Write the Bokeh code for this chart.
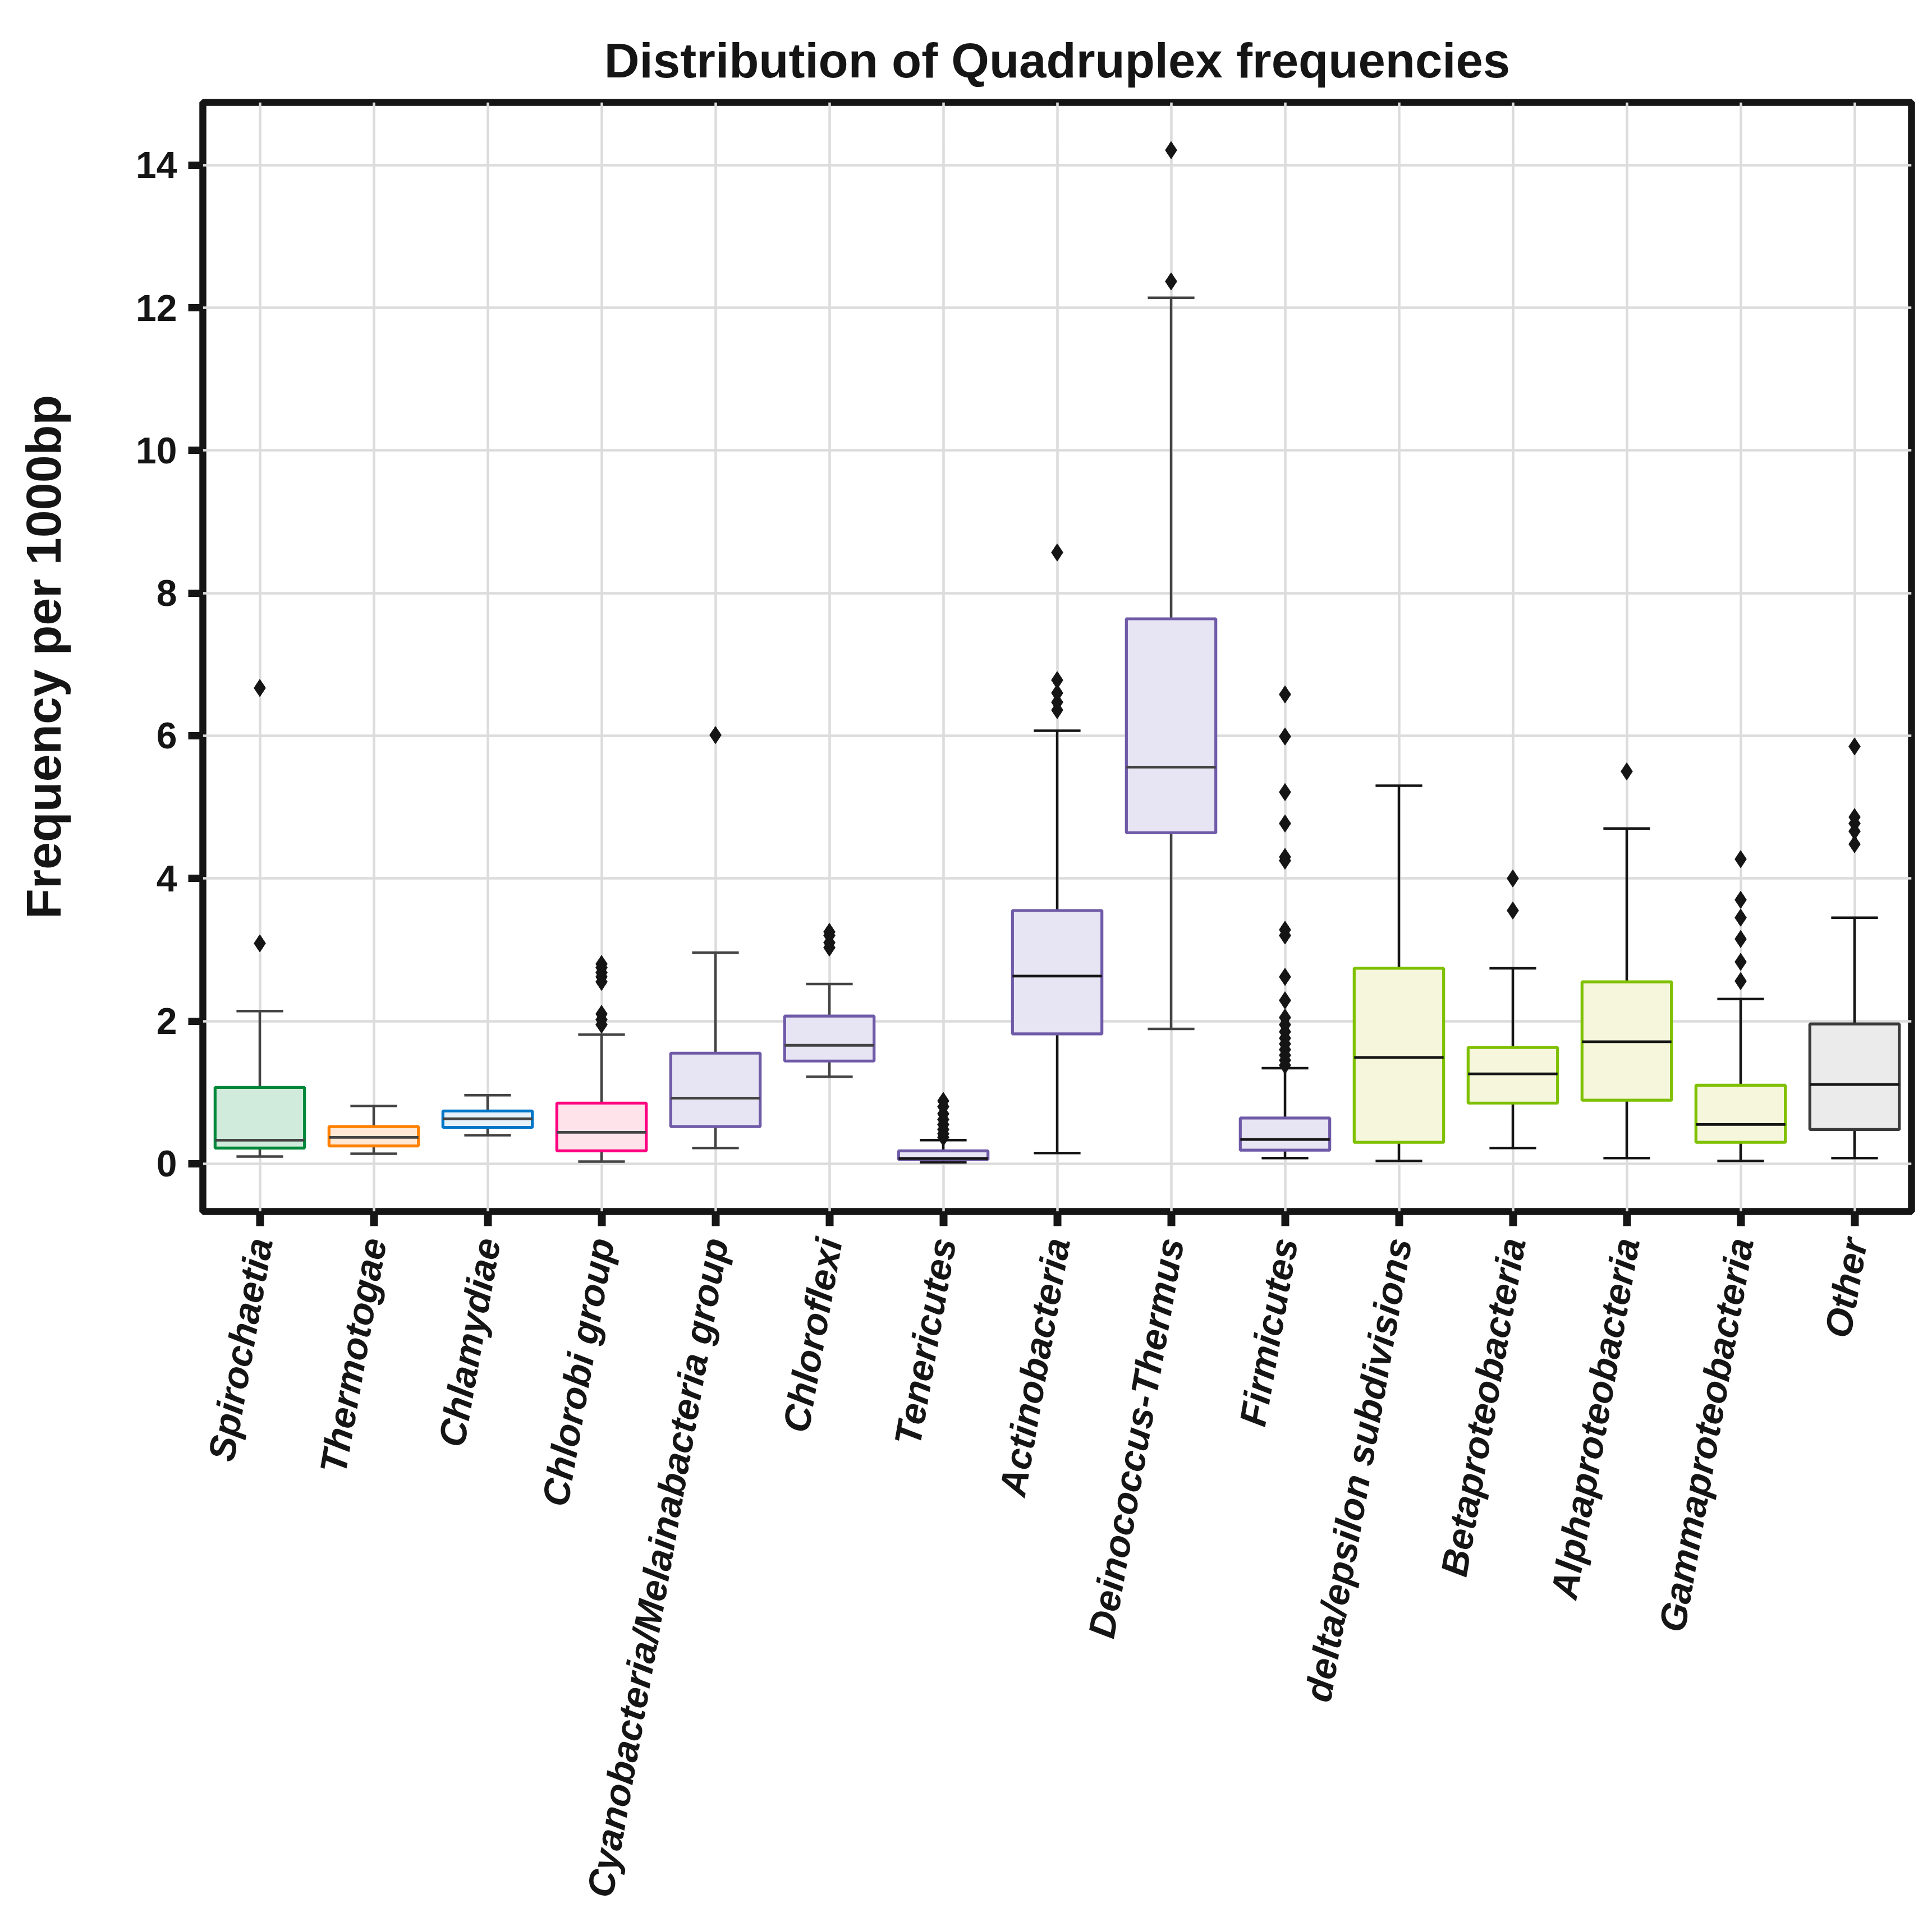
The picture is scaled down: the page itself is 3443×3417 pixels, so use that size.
import math
from bokeh.plotting import figure
from bokeh.models import ColumnDataSource, FactorRange, Range1d, FixedTicker
from bokeh.transform import dodge
from bokeh.embed import file_html
from bokeh.resources import INLINE

title_text = "Distribution of Quadruplex frequencies"
y_label = "Frequency per 1000bp"
categories = ["Spirochaetia", "Thermotogae", "Chlamydiae", "Chlorobi group",
              "Cyanobacteria/Melainabacteria group", "Chloroflexi", "Tenericutes",
              "Actinobacteria", "Deinococcus-Thermus", "Firmicutes",
              "delta/epsilon subdivisions", "Betaproteobacteria", "Alphaproteobacteria",
              "Gammaproteobacteria", "Other"]
q1 = [0.22, 0.25, 0.51, 0.18, 0.52, 1.44, 0.06, 1.82, 4.64, 0.19, 0.30, 0.85, 0.89, 0.30, 0.48]
median = [0.33, 0.37, 0.63, 0.44, 0.92, 1.66, 0.075, 2.63, 5.56, 0.34, 1.49, 1.26, 1.71, 0.55, 1.11]
q3 = [1.07, 0.52, 0.74, 0.85, 1.55, 2.07, 0.18, 3.55, 7.64, 0.64, 2.74, 1.63, 2.55, 1.10, 1.96]
whisker_low = [0.10, 0.14, 0.40, 0.03, 0.22, 1.22, 0.02, 0.15, 1.89, 0.08, 0.04, 0.22, 0.08, 0.04, 0.08]
whisker_high = [2.14, 0.81, 0.96, 1.81, 2.96, 2.52, 0.33, 6.07, 12.14, 1.34, 5.30, 2.74, 4.70, 2.31, 3.45]
outliers = [
    [3.09, 6.67],
    [],
    [],
    [1.95, 2.02, 2.10, 2.55, 2.62, 2.68, 2.75, 2.80],
    [6.01],
    [3.03, 3.10, 3.20, 3.25],
    [0.37, 0.42, 0.48, 0.55, 0.62, 0.70, 0.80, 0.88],
    [6.36, 6.47, 6.60, 6.78, 8.57],
    [12.37, 14.21],
    [1.38, 1.45, 1.52, 1.60, 1.68, 1.76, 1.85, 1.95, 2.05, 2.29, 2.62, 3.20, 3.28,
     4.25, 4.30, 4.77, 5.21, 5.99, 6.58],
    [],
    [3.55, 4.00],
    [5.50],
    [2.56, 2.83, 3.15, 3.45, 3.70, 4.27],
    [4.48, 4.66, 4.77, 4.86, 5.85],
]
y_ticks = [0, 2, 4, 6, 8, 10, 12, 14]

# styles
PURPLE, PFILL = "#6F5AA8", "#E7E5F3"
LIME, LFILL = "#7FC000", "#F5F6DC"
edge_colors = ["#00883A", "#FF8000", "#0077C8", "#FF0080"] + [PURPLE] * 6 + [LIME] * 4 + ["#3A3A3A"]
fill_colors = ["#D0EBDB", "#FFE8D5", "#E6F1FA", "#FEE3EA"] + [PFILL] * 6 + [LFILL] * 4 + ["#EBEBEB"]
GRAY, BLACK = "#444444", "#151515"
line_colors = [GRAY] * 6 + [BLACK, BLACK, GRAY] + [BLACK] * 6

FONT = "Liberation Sans"

src = ColumnDataSource(dict(cat=categories, q1=q1, med=median, q3=q3,
                            lo=whisker_low, hi=whisker_high,
                            edge=edge_colors, fill=fill_colors, lc=line_colors))
ox, oy = [], []
for c, vals in zip(categories, outliers):
    for v in vals:
        ox.append(c)
        oy.append(v)
osrc = ColumnDataSource(dict(cat=ox, y=oy))

p = figure(x_range=FactorRange(*categories), y_range=Range1d(-0.67, 14.88),
           frame_width=3045, frame_height=1977,
           min_border_left=361, min_border_top=182, min_border_right=22, min_border_bottom=1225,
           output_backend="svg", toolbar_location=None,
           background_fill_color="white", border_fill_color="white")

p.title.text = title_text
p.title.align = "center"
p.title.text_font = FONT
p.title.text_font_size = "87px"
p.title.text_font_style = "bold"
p.title.text_color = BLACK
p.title.standoff = 53

p.outline_line_color = BLACK
p.outline_line_width = 12.5
p.outline_line_alpha = 1.0

for g in (p.xgrid, p.ygrid):
    g.grid_line_color = "#DCDCDC"
    g.grid_line_width = 4.5
p.ygrid.ticker = FixedTicker(ticks=y_ticks)
p.yaxis.ticker = FixedTicker(ticks=y_ticks)

for ax in (p.xaxis, p.yaxis):
    ax.axis_line_color = None
    ax.major_tick_in = 0
    ax.major_tick_out = 26
    ax.major_tick_line_color = BLACK
    ax.minor_tick_line_color = None
    ax.major_label_text_font = FONT
    ax.major_label_text_color = BLACK

p.xaxis.major_tick_line_width = 14
p.xaxis.major_label_orientation = math.radians(80)
p.xaxis.major_label_text_font_size = "67px"
p.xaxis.major_label_text_font_style = "bold italic"
p.xaxis.major_label_standoff = 22

p.yaxis.major_tick_line_width = 13
p.yaxis.major_label_text_font_size = "66px"
p.yaxis.major_label_text_font_style = "bold"
p.yaxis.major_label_standoff = 20
p.yaxis.axis_label = y_label
p.yaxis.axis_label_text_font = FONT
p.yaxis.axis_label_text_font_size = "88px"
p.yaxis.axis_label_text_font_style = "bold"
p.yaxis.axis_label_text_color = BLACK
p.yaxis.axis_label_standoff = 112

BOX_W = 0.785
CAP = 0.205
# whiskers
p.segment(x0="cat", y0="q3", x1="cat", y1="hi", source=src, line_color="lc", line_width=4.5)
p.segment(x0="cat", y0="q1", x1="cat", y1="lo", source=src, line_color="lc", line_width=4.5)
# caps
p.segment(x0=dodge("cat", -CAP, range=p.x_range), y0="hi",
          x1=dodge("cat", CAP, range=p.x_range), y1="hi",
          source=src, line_color="lc", line_width=4.5)
p.segment(x0=dodge("cat", -CAP, range=p.x_range), y0="lo",
          x1=dodge("cat", CAP, range=p.x_range), y1="lo",
          source=src, line_color="lc", line_width=4.5)
# boxes
p.vbar(x="cat", top="q3", bottom="q1", width=BOX_W, source=src,
       fill_color="fill", line_color="edge", line_width=5.2)
# medians
p.segment(x0=dodge("cat", -BOX_W / 2, range=p.x_range), y0="med",
          x1=dodge("cat", BOX_W / 2, range=p.x_range), y1="med",
          source=src, line_color="lc", line_width=4.8)
# outliers
p.scatter(x="cat", y="y", source=osrc, marker="diamond", size=31,
          fill_color=BLACK, line_color=BLACK, line_width=1)

open("out.html", "w").write(file_html(p, INLINE))
